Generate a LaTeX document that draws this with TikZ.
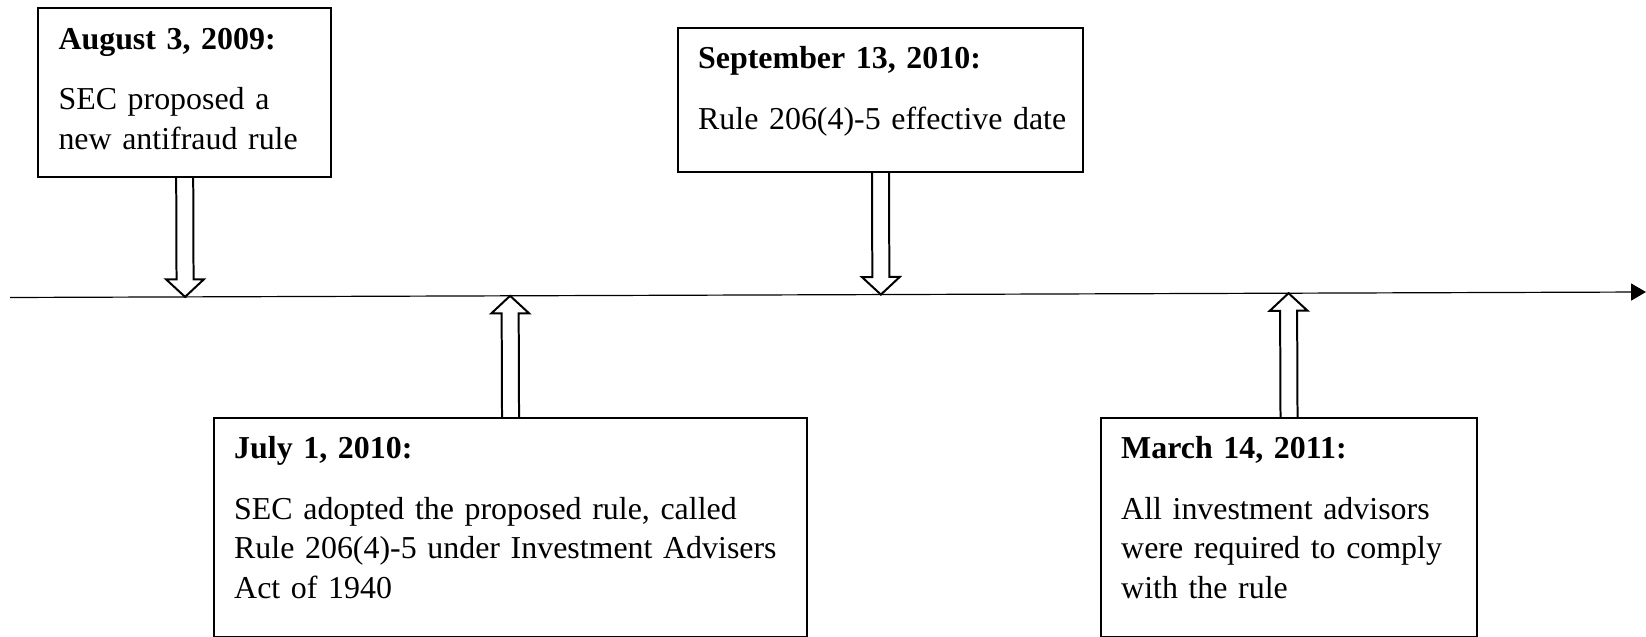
\documentclass[tikz,border=0pt]{standalone}
\usepackage{fontspec}
\setmainfont{Liberation Serif}
\usetikzlibrary{calc,arrows.meta}

\tikzset{
  event/.style={draw=black,line width=0.75pt,anchor=north west,align=left,
    inner xsep=7.6pt,inner ysep=0pt,text height=15.4pt,
    font=\fontsize{12pt}{15pt}\selectfont},
  blockarrow/.style={draw=black,line width=0.75pt,to path={
    let \p1=($(\tikztotarget)!6.6pt!(\tikztostart)$) in
    ($(\tikztostart)!3.2pt!90:(\tikztotarget)$) -- ($(\p1)!3.2pt!90:(\tikztotarget)$)
    -- ($(\p1)!7.1pt!90:(\tikztotarget)$) -- (\tikztotarget)
    -- ($(\p1)!7.1pt!-90:(\tikztotarget)$) -- ($(\p1)!3.2pt!-90:(\tikztotarget)$)
    -- ($(\tikztostart)!3.2pt!-90:(\tikztotarget)$)}}
}

\begin{document}
\begin{tikzpicture}[x=0.376pt,y=-0.376pt]

%SPACING
\useasboundingbox (0,0) rectangle (1646,637);
%SPACING

\node[event,text width=94.9pt,text depth=47.9pt](aug) at (37.3,7.3) {\textbf{August 3, 2009:}\\[7.6pt]SEC proposed a\\new antifraud rule};
\node[event,text width=137.1pt,text depth=38.8pt](sep) at (677,27) {\textbf{September 13, 2010:}\\[7.6pt]\mbox{Rule 206(4)-5 effective date}};
\node[event,text width=207.8pt,text depth=67pt](jul) at (213,417) {\textbf{July 1, 2010:}\\[7.6pt]SEC adopted the proposed rule, called\\Rule 206(4)-5 under Investment Advisers\\Act of 1940};
\node[event,text width=126.2pt,text depth=67pt](mar) at (1100,417) {\textbf{March 14, 2011:}\\[7.6pt]All investment advisors\\were required to comply\\with the rule};

\coordinate(tl0) at (10,297.5);
\coordinate(tl1) at (1646,292);
\draw[line width=0.45pt,-{Triangle[length=5.6pt,width=6.4pt]}] (tl0) -- (tl1);

\coordinate(p1) at ($(tl0)!(aug.south)!(tl1)$);
\coordinate(p2) at ($(tl0)!(sep.south)!(tl1)$);
\coordinate(p3) at ($(tl0)!(jul.north)!(tl1)$);
\coordinate(p4) at ($(tl0)!(mar.north)!(tl1)$);

\draw[blockarrow] (aug.south) to (p1);
\draw[blockarrow] (sep.south) to (p2);
\draw[blockarrow] (jul.north) to (p3);
\draw[blockarrow] (mar.north) to (p4);

\end{tikzpicture}
\end{document}
